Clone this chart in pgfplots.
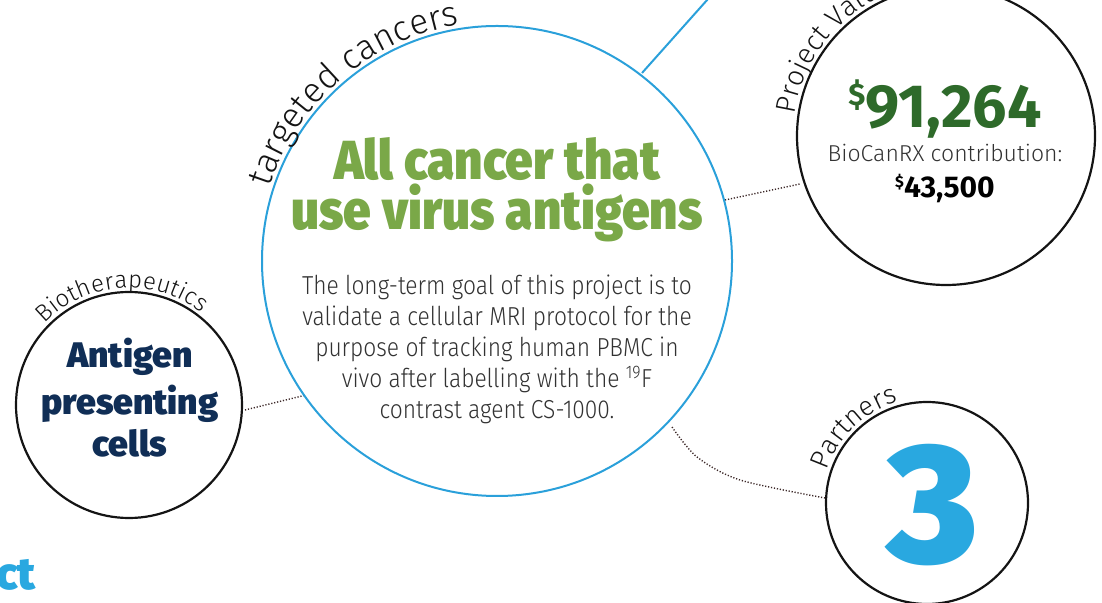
\documentclass[border=0pt]{standalone}
\usepackage{fontspec}
\usepackage{pgfplots}
\pgfplotsset{compat=1.18}
\usetikzlibrary{decorations.text}
\setmainfont{Fira Sans Light}
\newfontfamily\flight{Fira Sans Light}[FakeStretch=0.875]
\newfontfamily\fplain{Fira Sans Light}
\newfontfamily\farc{Fira Sans Light}
\newfontfamily\fblack{Fira Sans Black}[FakeStretch=0.9]
\newfontfamily\fblackn{Fira Sans Black}
\newfontfamily\fbold{Fira Sans Bold}
\definecolor{cblue}{RGB}{42,160,218}
\definecolor{nblue}{RGB}{41,168,224}
\definecolor{hgreen}{RGB}{122,168,72}
\definecolor{dgreen}{RGB}{46,106,42}
\definecolor{navy}{RGB}{16,46,86}
\definecolor{txt}{RGB}{50,50,50}
\definecolor{ring}{RGB}{20,20,20}
\definecolor{dots}{RGB}{60,40,40}
\begin{document}
\begin{tikzpicture}
\begin{axis}[width=1102pt,height=602pt,scale only axis,
  xmin=0,xmax=1102,ymin=0,ymax=602,hide axis,clip=true]
% connecting lines
\addplot[cblue, line width=2pt] coordinates {(642,529) (716,612)};
\addplot[dots, line width=1.4pt, dash pattern=on 1.2pt off 1.8pt] coordinates {(725,402) (800,418)};
\addplot[dots, line width=1.4pt, dash pattern=on 1.2pt off 1.8pt] coordinates {(245,192) (306,207)};
\addplot[dots, line width=1.4pt, dash pattern=on 1.2pt off 1.8pt, smooth] coordinates {(672,175) (697,145) (740,122) (825,104)};
% circles
\draw[cblue, line width=2pt] (axis cs:497,341) circle[radius=235pt];
\draw[ring, line width=2.2pt] (axis cs:129,197) circle[radius=113pt];
\draw[ring, line width=2.2pt] (axis cs:946,466) circle[radius=149pt];
\draw[ring, line width=2.2pt] (axis cs:927,99) circle[radius=101pt];
% arc labels
\path[decorate, decoration={text along path, text align=center, raise=2pt,
  text={|\farc\fontsize{35}{40}\selectfont\color{ring}|targeted cancers}}]
  (axis cs:497,341) ++(175:237pt) arc[start angle=175, end angle=86, radius=237pt];
\path[decorate, decoration={text along path, text align=center, raise=2pt,
  text={|\farc\fontsize{24}{30}\selectfont\color{ring}|Biotherapeutics}}]
  (axis cs:129,197) ++(139:115pt) arc[start angle=139, end angle=49, radius=115pt];
\path[decorate, decoration={text along path, text align=left, raise=2pt,
  text={|\farc\fontsize{28}{34}\selectfont\color{ring}|Project Value}}]
  (axis cs:946,466) ++(172:151pt) arc[start angle=172, end angle=40, radius=151pt];
\path[decorate, decoration={text along path, text align=center, raise=2pt,
  text={|\farc\fontsize{27}{31}\selectfont\color{ring}|Partners}}]
  (axis cs:927,99) ++(170:103pt) arc[start angle=170, end angle=98, radius=103pt];
% heading
\node[anchor=base, text=hgreen, inner sep=0pt] at (axis cs:497,422) {\fblack\fontsize{55}{60}\selectfont All cancer that};
\node[anchor=base, text=hgreen, inner sep=0pt] at (axis cs:497,372) {\fblack\fontsize{55}{60}\selectfont use virus antigens};
% paragraph
\node[anchor=base, text=txt, inner sep=0pt] at (axis cs:497,307) {\flight\fontsize{26}{30}\selectfont The long-term goal of this project is to};
\node[anchor=base, text=txt, inner sep=0pt] at (axis cs:497,276) {\flight\fontsize{26}{30}\selectfont validate a cellular MRI protocol for the};
\node[anchor=base, text=txt, inner sep=0pt] at (axis cs:497,245) {\flight\fontsize{26}{30}\selectfont purpose of tracking human PBMC in};
\node[anchor=base, text=txt, inner sep=0pt] at (axis cs:497,214) {\flight\fontsize{26}{30}\selectfont vivo after labelling with the \textsuperscript{19}F};
\node[anchor=base, text=txt, inner sep=0pt] at (axis cs:497,183) {\flight\fontsize{26}{30}\selectfont contrast agent CS-1000.};
% left circle
\node[anchor=base, text=navy, inner sep=0pt] at (axis cs:130,234) {\fblackn\fontsize{35.5}{40}\selectfont Antigen};
\node[anchor=base, text=navy, inner sep=0pt] at (axis cs:130,187) {\fblackn\fontsize{35.5}{40}\selectfont presenting};
\node[anchor=base, text=navy, inner sep=0pt] at (axis cs:130,145) {\fblackn\fontsize{35.5}{40}\selectfont cells};
% top right circle
\node[anchor=base, text=dgreen, inner sep=0pt] at (axis cs:945,474) {\fbold\fontsize{61}{62}\selectfont\raisebox{22pt}{\fontsize{31}{31}\selectfont\$}91,264};
\node[anchor=base, text=txt, inner sep=0pt] at (axis cs:945,440) {\fplain\fontsize{23}{28}\selectfont BioCanRX contribution:};
\node[anchor=base, text=black, inner sep=0pt] at (axis cs:945,404) {\fbold\fontsize{30}{32}\selectfont\raisebox{10pt}{\fontsize{16}{16}\selectfont\$}43,500};
% partners
\node[anchor=base, text=nblue, inner sep=0pt] at (axis cs:933,39) {\fblackn\fontsize{170}{170}\selectfont 3};
% bottom-left cut title
\node[anchor=base east, text=nblue, inner sep=0pt] at (axis cs:36,13) {\fblackn\fontsize{45}{50}\selectfont Project};
\end{axis}
\pgfresetboundingbox
\path[use as bounding box] (0,0) rectangle (1102pt,602pt);
\end{tikzpicture}
\end{document}
